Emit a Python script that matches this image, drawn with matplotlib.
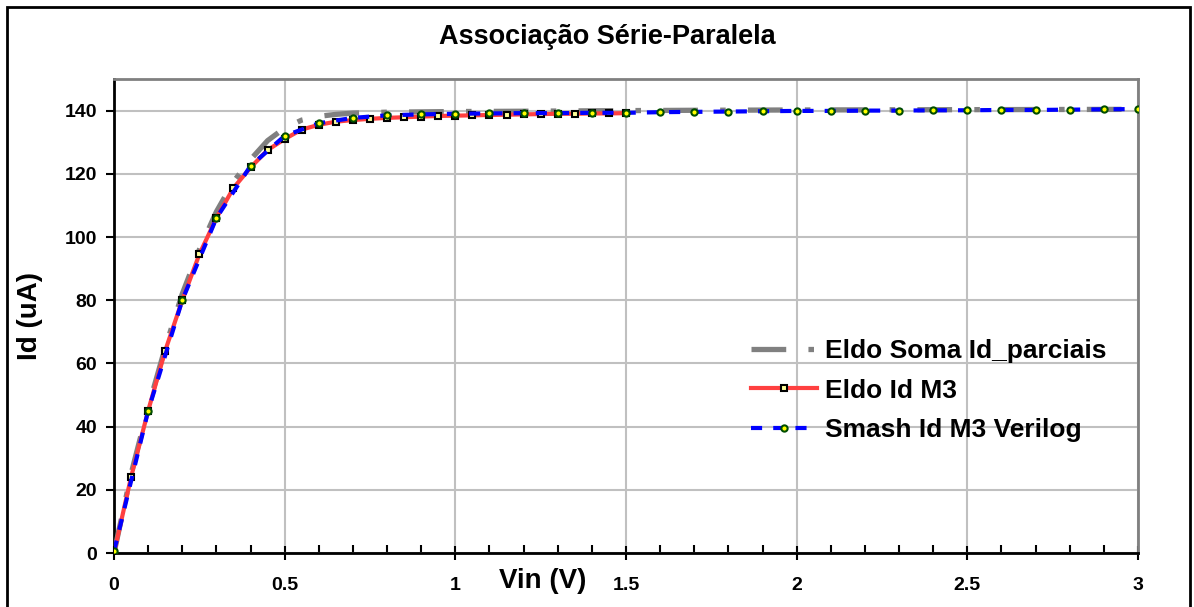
import numpy as np
import matplotlib
matplotlib.use("Agg")
import matplotlib.pyplot as plt
from matplotlib.patches import Rectangle

plt.rcParams['font.family'] = ['Liberation Sans', 'DejaVu Sans']
plt.rcParams['font.weight'] = 'bold'
plt.rcParams['lines.scale_dashes'] = False

# Eldo Soma Id_parciais (gray)
vin_soma = [0, 0.05, 0.1, 0.15, 0.2, 0.25, 0.3, 0.35, 0.4, 0.45, 0.5, 0.55, 0.6, 0.65,
            0.7, 0.8, 0.9, 1.0, 1.2, 1.5, 1.7, 2.0, 2.5, 3.0]
id_soma = [0, 25, 46, 65, 82, 96, 108, 117.5, 124.5, 130.5, 134.5, 137, 138.2, 138.8,
           139.2, 139.5, 139.6, 139.7, 139.8, 140.0, 140.1, 140.2, 140.3, 140.4]

# Eldo Id M3 (red)
vin_m3 = np.round(np.arange(0, 1.5001, 0.05), 2)
id_m3 = [0, 24, 45, 64, 80, 94.5, 106, 115.5, 122, 127.5,
         131, 134, 135.5, 136.5, 137, 137.4, 137.7, 137.9, 138.1, 138.3,
         138.4, 138.5, 138.6, 138.7, 138.8, 138.9, 139.0, 139.0, 139.1, 139.1,
         139.2]

# Smash Id M3 Verilog (blue)
vin_vlog = np.round(np.arange(0, 3.0001, 0.1), 2)
id_vlog = [0.5, 45, 80, 106, 122.5, 132, 136, 137.7, 138.5, 138.8,
           139.0, 139.1, 139.2, 139.2, 139.3, 139.3, 139.5, 139.6, 139.7, 139.8,
           139.9, 139.9, 140.0, 140.0, 140.1, 140.1, 140.2, 140.2, 140.3, 140.4,
           140.5]

fig = plt.figure(figsize=(11.94, 6.07), dpi=100)
ax = fig.add_axes([114/1194, 1-553/607, (1138-114)/1194, (553-79)/607])

ax.plot(vin_soma, id_soma, color='#808080', lw=3.8, dashes=(25, 16, 4, 16),
        solid_capstyle='butt', label='Eldo Soma Id_parciais', zorder=3)
ax.plot(vin_m3, id_m3, color='#ff4040', lw=3, marker='s', ms=5,
        mfc='#ffff99', mec='black', mew=1.5, label='Eldo Id M3', zorder=4)
ax.plot(vin_vlog, id_vlog, color='#0000ff', lw=3, dashes=(8, 8),
        marker='o', ms=4.5, mfc='#ffff00', mec='#004d00', mew=1.5,
        label='Smash Id M3 Verilog', zorder=5)

ax.set_xlim(0, 3)
ax.set_ylim(0, 150)
ax.set_xticks(np.arange(0, 3.01, 0.5))
ax.set_xticklabels(['0', '0.5', '1', '1.5', '2', '2.5', '3'])
ax.set_xticks(np.arange(0, 3.01, 0.1), minor=True)
ax.set_yticks(np.arange(0, 141, 20))
ax.grid(True, which='major', color='#c0c0c0', lw=1.5)
ax.set_axisbelow(True)
ax.tick_params(axis='x', which='major', direction='inout', length=10, width=1.5,
               labelsize=14, pad=12)
ax.tick_params(axis='x', which='minor', direction='in', length=6, width=1.5)
ax.tick_params(axis='y', which='major', direction='out', length=6, width=1.5,
               labelsize=14, pad=6)
for lab in ax.get_xticklabels() + ax.get_yticklabels():
    lab.set_fontweight('bold')

for s in ['left', 'bottom']:
    ax.spines[s].set_color('black')
    ax.spines[s].set_linewidth(2)
for s in ['top', 'right']:
    ax.spines[s].set_color('#808080')
    ax.spines[s].set_linewidth(2)

fig.text(607/1194, 1-37/607, 'Associação Série-Paralela', ha='center', va='center',
         fontsize=19.5, fontweight='bold')
fig.text(30/1194, 1-316/607, 'Id (uA)', ha='center', va='center', rotation=90,
         fontsize=20, fontweight='bold')
fig.text(543/1194, 1-581/607, 'Vin (V)', ha='center', va='center',
         fontsize=20, fontweight='bold')

leg = ax.legend(loc='upper left', bbox_to_anchor=(738/1194, 1-326/607),
                bbox_transform=fig.transFigure, frameon=False, fontsize=19,
                handlelength=2.5, handletextpad=0.3, labelspacing=0.58,
                borderpad=0)
for t in leg.get_texts():
    t.set_fontweight('bold')

fig.patches.append(Rectangle((7/1194, -0.05), (1190-7)/1194, 1.05 - 7/607,
                             transform=fig.transFigure, fill=False,
                             edgecolor='black', lw=2))

fig.savefig('out.png', dpi=100)
